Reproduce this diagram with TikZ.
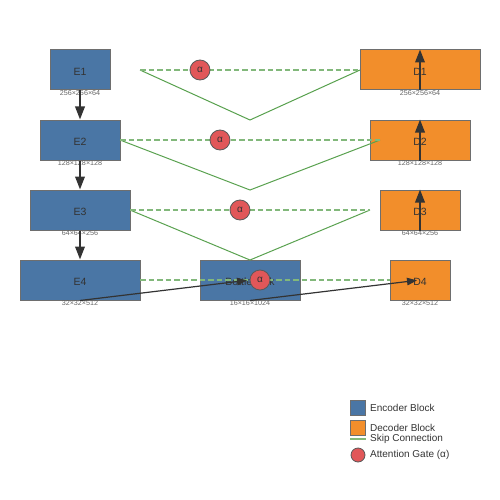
\documentclass[tikz,border=0pt]{standalone}
\usepackage{fontspec}
\setmainfont{Liberation Sans}
\usetikzlibrary{arrows.meta}
\definecolor{enc}{HTML}{4A76A5}
\definecolor{dec}{HTML}{F28E2B}
\definecolor{att}{HTML}{E15759}
\definecolor{skip}{HTML}{59A14F}
\definecolor{dark}{HTML}{333333}
\definecolor{dimgray}{HTML}{666666}
\definecolor{edge}{HTML}{6E6E6E}
\tikzset{
  encblock/.style={draw=edge, line width=1pt, fill=enc, inner sep=0pt, font=\fontsize{10.5}{12}\selectfont, text=dark},
  decblock/.style={draw=edge, line width=1pt, fill=dec, inner sep=0pt, font=\fontsize{10.5}{12}\selectfont, text=dark},
  blocktext/.style={font=\fontsize{10.5}{12}\selectfont, text=dark, inner sep=0pt},
  dimlabel/.style={font=\fontsize{7.2}{8}\selectfont, text=dimgray, inner sep=0pt},
  flow/.style={draw=dark, line width=2pt, -{Triangle[length=13pt,width=9.5pt]}},
  thinflow/.style={draw=dark, line width=1.2pt, -{Triangle[length=10pt,width=7.5pt]}},
  skipdash/.style={draw=skip!75, line width=1.6pt, dash pattern=on 5.5pt off 3pt},
  skipline/.style={draw=skip, line width=1pt},
  gate/.style={circle, draw=black!65, line width=0.8pt, fill=att, minimum size=20pt, inner sep=0pt, font=\fontsize{10}{12}\selectfont, text=dark},
  legtext/.style={anchor=west, inner sep=0pt, font=\fontsize{10}{12}\selectfont, text=dark},
}
\begin{document}
\begin{tikzpicture}[x=1pt, y=-1pt]
\useasboundingbox (0,0) rectangle (500,500);
% encoder blocks
\node[encblock, minimum width=60pt, minimum height=40pt] (E1) at (80,70) {};
\node[encblock, minimum width=80pt, minimum height=40pt] (E2) at (80,140) {};
\node[encblock, minimum width=100pt, minimum height=40pt] (E3) at (80,210) {};
\node[encblock, minimum width=120pt, minimum height=40pt] (E4) at (80,280) {};
\node[encblock, minimum width=100pt, minimum height=40pt] (B) at (250,280) {};
% decoder blocks
\node[decblock, minimum width=60pt, minimum height=40pt] (D4) at (420,280) {};
\node[decblock, minimum width=80pt, minimum height=40pt] (D3) at (420,210) {};
\node[decblock, minimum width=100pt, minimum height=40pt] (D2) at (420,140) {};
\node[decblock, minimum width=120pt, minimum height=40pt] (D1) at (420,70) {};
% block names
\node[blocktext] (E1n) at (80,71.5) {E1};
\node[blocktext] (E2n) at (80,141.5) {E2};
\node[blocktext] (E3n) at (80,211.5) {E3};
\node[blocktext] (E4n) at (80,281.5) {E4};
\node[blocktext] (Bn) at (250,281.5) {Bottleneck};
\node[blocktext] (D4n) at (420,281.5) {D4};
\node[blocktext] (D3n) at (420,211.5) {D3};
\node[blocktext] (D2n) at (420,141.5) {D2};
\node[blocktext] (D1n) at (420,71.5) {D1};
% dimension labels
\node[dimlabel] (E1d) at (80,93) {256×256×64};
\node[dimlabel] (E2d) at (80,163) {128×128×128};
\node[dimlabel] (E3d) at (80,233) {64×64×256};
\node[dimlabel] (E4d) at (80,303) {32×32×512};
\node[dimlabel] (Bd) at (250,303) {16×16×1024};
\node[dimlabel] (D4d) at (420,303) {32×32×512};
\node[dimlabel] (D3d) at (420,233) {64×64×256};
\node[dimlabel] (D2d) at (420,163) {128×128×128};
\node[dimlabel] (D1d) at (420,93) {256×256×64};
% skip connection endpoints
\coordinate (s1a) at (140,70);  \coordinate (s1v) at (250,120); \coordinate (s1b) at (360,70);
\coordinate (s2a) at (120,140); \coordinate (s2v) at (250,190); \coordinate (s2b) at (380,140);
\coordinate (s3a) at (130,210); \coordinate (s3v) at (250,260); \coordinate (s3b) at (370,210);
\coordinate (s4a) at (140,280); \coordinate (s4b) at (390,280);
% solid skip paths
\draw[skipline] (s1a) -- (s1v) -- (s1b);
\draw[skipline] (s2a) -- (s2v) -- (s2b);
\draw[skipline] (s3a) -- (s3v) -- (s3b);
% dashed skip paths
\draw[skipdash] (s1a) -- (s1b);
\draw[skipdash] (s2a) -- (s2b);
\draw[skipdash] (s3a) -- (s3b);
\draw[skipdash] (s4a) -- (s4b);
% encoder flow
\draw[flow] (E1.south) -- (E2.north);
\draw[flow] (E2.south) -- (E3.north);
\draw[flow] (E3.south) -- (E4.north);
\draw[thinflow, shorten >=3pt] (E4.south) -- (B.center);
\draw[thinflow, shorten >=3pt] (B.south) -- (D4.center);
% decoder flow
\draw[flow] (D3.south) -- (D3.north);
\draw[flow] (D2.south) -- (D2.north);
\draw[flow] (D1.south) -- (D1.north);
% attention gates
\node[gate] (g1) at (200,70) {α};
\node[gate] (g2) at (220,140) {α};
\node[gate] (g3) at (240,210) {α};
\node[gate] (g4) at (260,280) {α};
% legend
\node[draw=edge, line width=1pt, fill=enc, minimum size=15pt, inner sep=0pt] (L1) at (357.5,407.5) {};
\node[legtext] (L1t) at (370,408) {Encoder Block};
\node[draw=edge, line width=1pt, fill=dec, minimum size=15pt, inner sep=0pt] (L2) at (357.5,427.5) {};
\node[legtext] (L2t) at (370,428) {Decoder Block};
\coordinate (L3a) at (350,439); \coordinate (L3b) at (366,439);
\draw[skip!75, line width=1.6pt] (L3a) -- (L3b);
\node[legtext] (L3t) at (370,439) {Skip Connection};
\node[circle, draw=black!65, line width=0.8pt, fill=att, minimum size=14pt, inner sep=0pt] (L4) at (358,455) {};
\node[legtext] (L4t) at (370,455) {Attention Gate (α)};
\end{tikzpicture}
\end{document}
